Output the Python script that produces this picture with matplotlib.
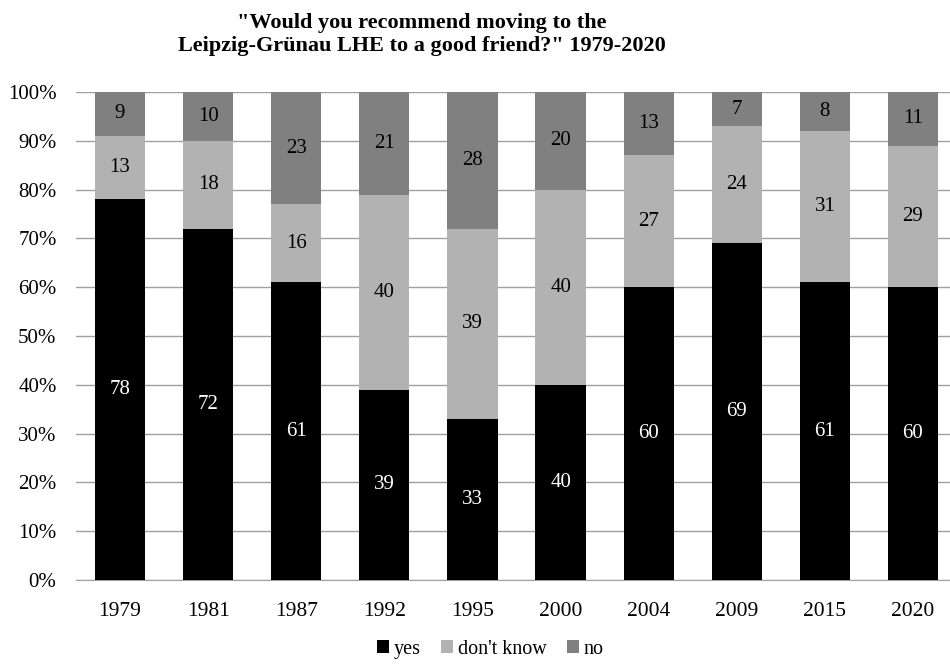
import matplotlib.pyplot as plt
import numpy as np

plt.rcParams['font.family'] = ['Liberation Serif', 'DejaVu Serif']

years = ['1979', '1981', '1987', '1992', '1995', '2000', '2004', '2009', '2015', '2020']
yes = [78, 72, 61, 39, 33, 40, 60, 69, 61, 60]
dont_know = [13, 18, 16, 40, 39, 40, 27, 24, 31, 29]
no = [9, 10, 23, 21, 28, 20, 13, 7, 8, 11]

colors = ['#000000', '#b2b2b2', '#808080']
text_colors = ['white', 'black', 'black']

fig = plt.figure(figsize=(9.5, 6.64), dpi=100)
ax = fig.add_axes([0.08, 0.1265, 0.92, 0.7349])

x = np.arange(len(years))
bottom = np.zeros(len(years))
series = [('yes', yes), ("don't know", dont_know), ('no', no)]
for (name, vals), c, tc in zip(series, colors, text_colors):
    vals = np.array(vals)
    ax.bar(x, vals, 0.57, bottom=bottom, color=c, label=name, zorder=3)
    for xi, b, v in zip(x, bottom, vals):
        ax.text(xi, b + v / 2, str(v), ha='center', va='center', color=tc, fontsize=15, zorder=4)
    bottom += vals

ax.set_xlim(-0.5, 9.42)
ax.set_ylim(0, 100)
ax.set_yticks(range(0, 101, 10))
ax.set_yticklabels([f'{v}%' for v in range(0, 101, 10)], fontsize=15)
ax.set_xticks(x)
ax.set_xticklabels(years, fontsize=15.5)
ax.tick_params(length=0)
ax.tick_params(axis='x', pad=16)
ax.tick_params(axis='y', pad=14)
ax.yaxis.grid(True, color='#a0a0a0', linewidth=1, zorder=0)
for s in ['top', 'right', 'left']:
    ax.spines[s].set_visible(False)
ax.spines['bottom'].set_color('#a0a0a0')

fig.text(0.444, 0.98, '"Would you recommend moving to the\nLeipzig-Grünau LHE to a good friend?" 1979-2020',
         ha='center', va='top', fontsize=16, fontweight='bold', linespacing=1.2)

fig.legend(loc='center', bbox_to_anchor=(0.516, 0.022), ncol=3, frameon=False, fontsize=14.5,
           handlelength=0.6, handleheight=0.6, handletextpad=0.25, columnspacing=1.0)

fig.savefig('out.png', dpi=100)
